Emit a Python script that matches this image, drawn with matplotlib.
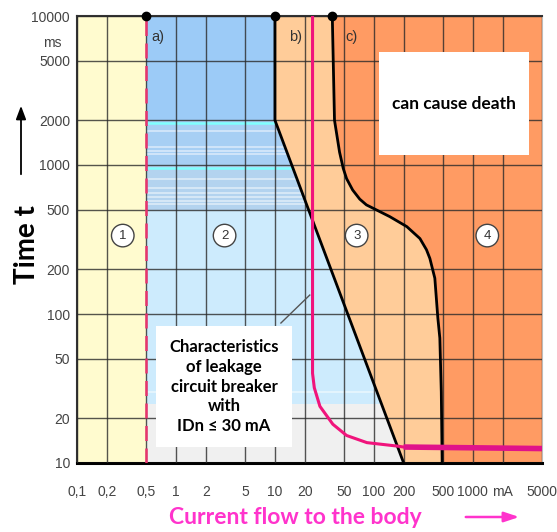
import numpy as np
import matplotlib
matplotlib.use("Agg")
import matplotlib.pyplot as plt

# tick positions / labels (mA and ms, log axes)
x_ticks = [0.1, 0.2, 0.5, 1, 2, 5, 10, 20, 50, 100, 200, 500, 1000, 2000, 5000]
x_labels = ['0,1', '0,2', '0,5', '1', '2', '5', '10', '20', '50', '100', '200',
            '500', '1000', 'mA', '5000']
y_ticks = [10, 20, 50, 100, 200, 500, 1000, 2000, 5000, 10000]
y_labels = ['10', '20', '50', '100', '200', '500', '1000', '2000', '5000', '10000']

# boundary curves
a_x = 0.5
b_x = [10, 10, 200]
b_y = [10000, 2000, 10]
c_x = [38, 40, 45, 49, 53, 61, 72, 84, 98, 145, 215, 292, 340, 368, 413, 443, 464, 480, 490]
c_y = [10000, 2000, 1220, 950, 810, 680, 590, 540, 513, 450, 386, 321, 270, 236, 174, 94, 69, 30, 10]

# leakage circuit breaker (RCD, 30 mA) trip curve
rcd_x = [24, 24, 25, 28.5, 38.5, 53, 85, 170, 200]
rcd_y = [10000, 40, 32, 24, 18.2, 15.3, 13.7, 13.0, 12.8]
rcd_tail_x = [200, 5000]
rcd_tail_y = [12.8, 12.5]

# zone 2 shading bands (y_top, y_bottom, colour)
bands = [(10000, 2000, '#9ccbf7'),
         (2000, 1000, '#a7cff4'),
         (1000, 500, '#b3d3ef'),
         (500, 25, '#cdebfd'),
         (25, 10, '#f0f0f0')]
stripes = [1700, 1320, 1250, 1190, 800, 700, 650, 610, 575, 545, 30]

zone_labels = ['1', '2', '3', '4']
zone_x = [0.29, 3.1, 67, 1400]
zone_y = 336

TICKFONT = ['Liberation Sans', 'DejaVu Sans']

fig = plt.figure(figsize=(5.57, 5.32), dpi=100)
ax = fig.add_axes([77/557, 69/532, 465/557, 447/532])
ax.set_xscale('log')
ax.set_yscale('log')
ax.set_xlim(0.1, 5000)
ax.set_ylim(10, 10000)

# zone 1
ax.axvspan(0.1, a_x, color='#fffbcf', zorder=0, lw=0)
# zone 2 bands (covered on the right by zone 3/4)
for top, bot, col in bands:
    ax.fill_between([a_x, 5000], bot, top, color=col, lw=0, zorder=0)
for s in stripes:
    ax.plot([a_x, 5000], [s, s], color='white', lw=1.2, alpha=0.55, zorder=0.5)
for s in [2000, 1000]:
    ax.plot([a_x, 5000], [s * 0.96, s * 0.96], color='#80ffff', lw=1.8, zorder=0.6)

# zone 3 and 4
ax.fill(b_x + c_x[::-1], b_y + c_y[::-1], color='#ffcc99', lw=0, zorder=1)
ax.fill(c_x + [5000, 5000], c_y + [10, 10000], color='#ff9b63', lw=0, zorder=1)

# grid
ax.set_xticks(x_ticks)
ax.set_xticklabels(x_labels)
ax.set_yticks(y_ticks)
ax.set_yticklabels(y_labels)
ax.minorticks_off()
ax.set_axisbelow(False)
ax.grid(True, color='#2a2a2a', lw=1.0, alpha=0.8)
ax.tick_params(length=0, colors='#444444', labelsize=10)
ax.tick_params(axis='x', pad=16)
ax.tick_params(axis='y', pad=5)
for lab in ax.get_xticklabels() + ax.get_yticklabels():
    lab.set_family(TICKFONT)

for side in ['top', 'left']:
    ax.spines[side].set_color('#333333')
    ax.spines[side].set_linewidth(1.5)
ax.spines['bottom'].set_color('black')
ax.spines['bottom'].set_linewidth(2.2)
ax.spines['right'].set_color('#bbbbbb')

# curves
ax.plot([a_x, a_x], [10, 10000], color='#e8336d', lw=1.8, dashes=(6, 3), zorder=3)
ax.plot(b_x, b_y, color='black', lw=2, zorder=3)
ax.plot(c_x, c_y, color='black', lw=2, zorder=3)
ax.plot(rcd_x, rcd_y, color='#f0147c', lw=2.2, zorder=3)
ax.plot(rcd_tail_x, rcd_tail_y, color='#e0128a', lw=4, zorder=3, solid_capstyle='butt')
ax.plot([a_x, b_x[0], c_x[0]], [10000, 10000, 10000], 'o', color='black', ms=6,
        zorder=4, clip_on=False)

for lx, lab in [(0.56, 'a)'), (14, 'b)'), (52, 'c)')]:
    ax.text(lx, 7200, lab, fontsize=10.5, color='#333333', ha='left', va='center',
            family=TICKFONT, zorder=4)
ax.text(0.07, 6600, 'ms', fontsize=10, color='#444444', ha='right', va='center',
        family=TICKFONT, clip_on=False)

for lab, zx in zip(zone_labels, zone_x):
    ax.text(zx, zone_y, lab, fontsize=9.5, color='#333333', ha='center', va='center',
            family=TICKFONT, zorder=4,
            bbox=dict(boxstyle='circle,pad=0.4', fc='white', ec='#444444', lw=1))

# annotation boxes
ax.add_patch(plt.Rectangle((0.649, 0.689), 0.323, 0.230, transform=ax.transAxes,
                           fc='white', ec='none', zorder=5))
ax.text(0.81, 0.804, 'can cause death', transform=ax.transAxes, ha='center', va='center',
        fontsize=12.5, fontweight='bold', family='Lato', zorder=6)
ax.plot([11.5, 22.5], [87, 134], color='#555555', lw=1, zorder=4)
ax.add_patch(plt.Rectangle((0.170, 0.036), 0.292, 0.270, transform=ax.transAxes,
                           fc='white', ec='none', zorder=5))
ax.text(0.316, 0.171, 'Characteristics\nof leakage\ncircuit breaker\nwith\nIDn \u2264 30 mA',
        transform=ax.transAxes, ha='center', va='center', fontsize=12,
        fontweight='bold', family=['Lato', 'DejaVu Sans'], linespacing=1.3, zorder=6)

# axis titles
fig.text(27/557, 1 - 245/532, 'Time t', rotation=90, ha='center', va='center',
         fontsize=20, fontweight='bold', family='Lato')
fig.add_artist(matplotlib.patches.FancyArrowPatch((21/557, 1 - 177/532), (21/557, 1 - 103/532),
               transform=fig.transFigure, arrowstyle='-|>,head_width=3,head_length=8',
               color='black', lw=1.3))
fig.text(295/557, 1 - 518/532, 'Current flow to the body', ha='center', va='center',
         fontsize=16.5, fontweight='bold', color='#ff33cc', family='Lato')
fig.add_artist(matplotlib.patches.FancyArrowPatch((463/557, 1 - 517/532), (522/557, 1 - 517/532),
               transform=fig.transFigure, arrowstyle='-|>,head_width=3,head_length=9',
               color='#ff33cc', lw=1.8))

fig.savefig('out.png', dpi=100)
